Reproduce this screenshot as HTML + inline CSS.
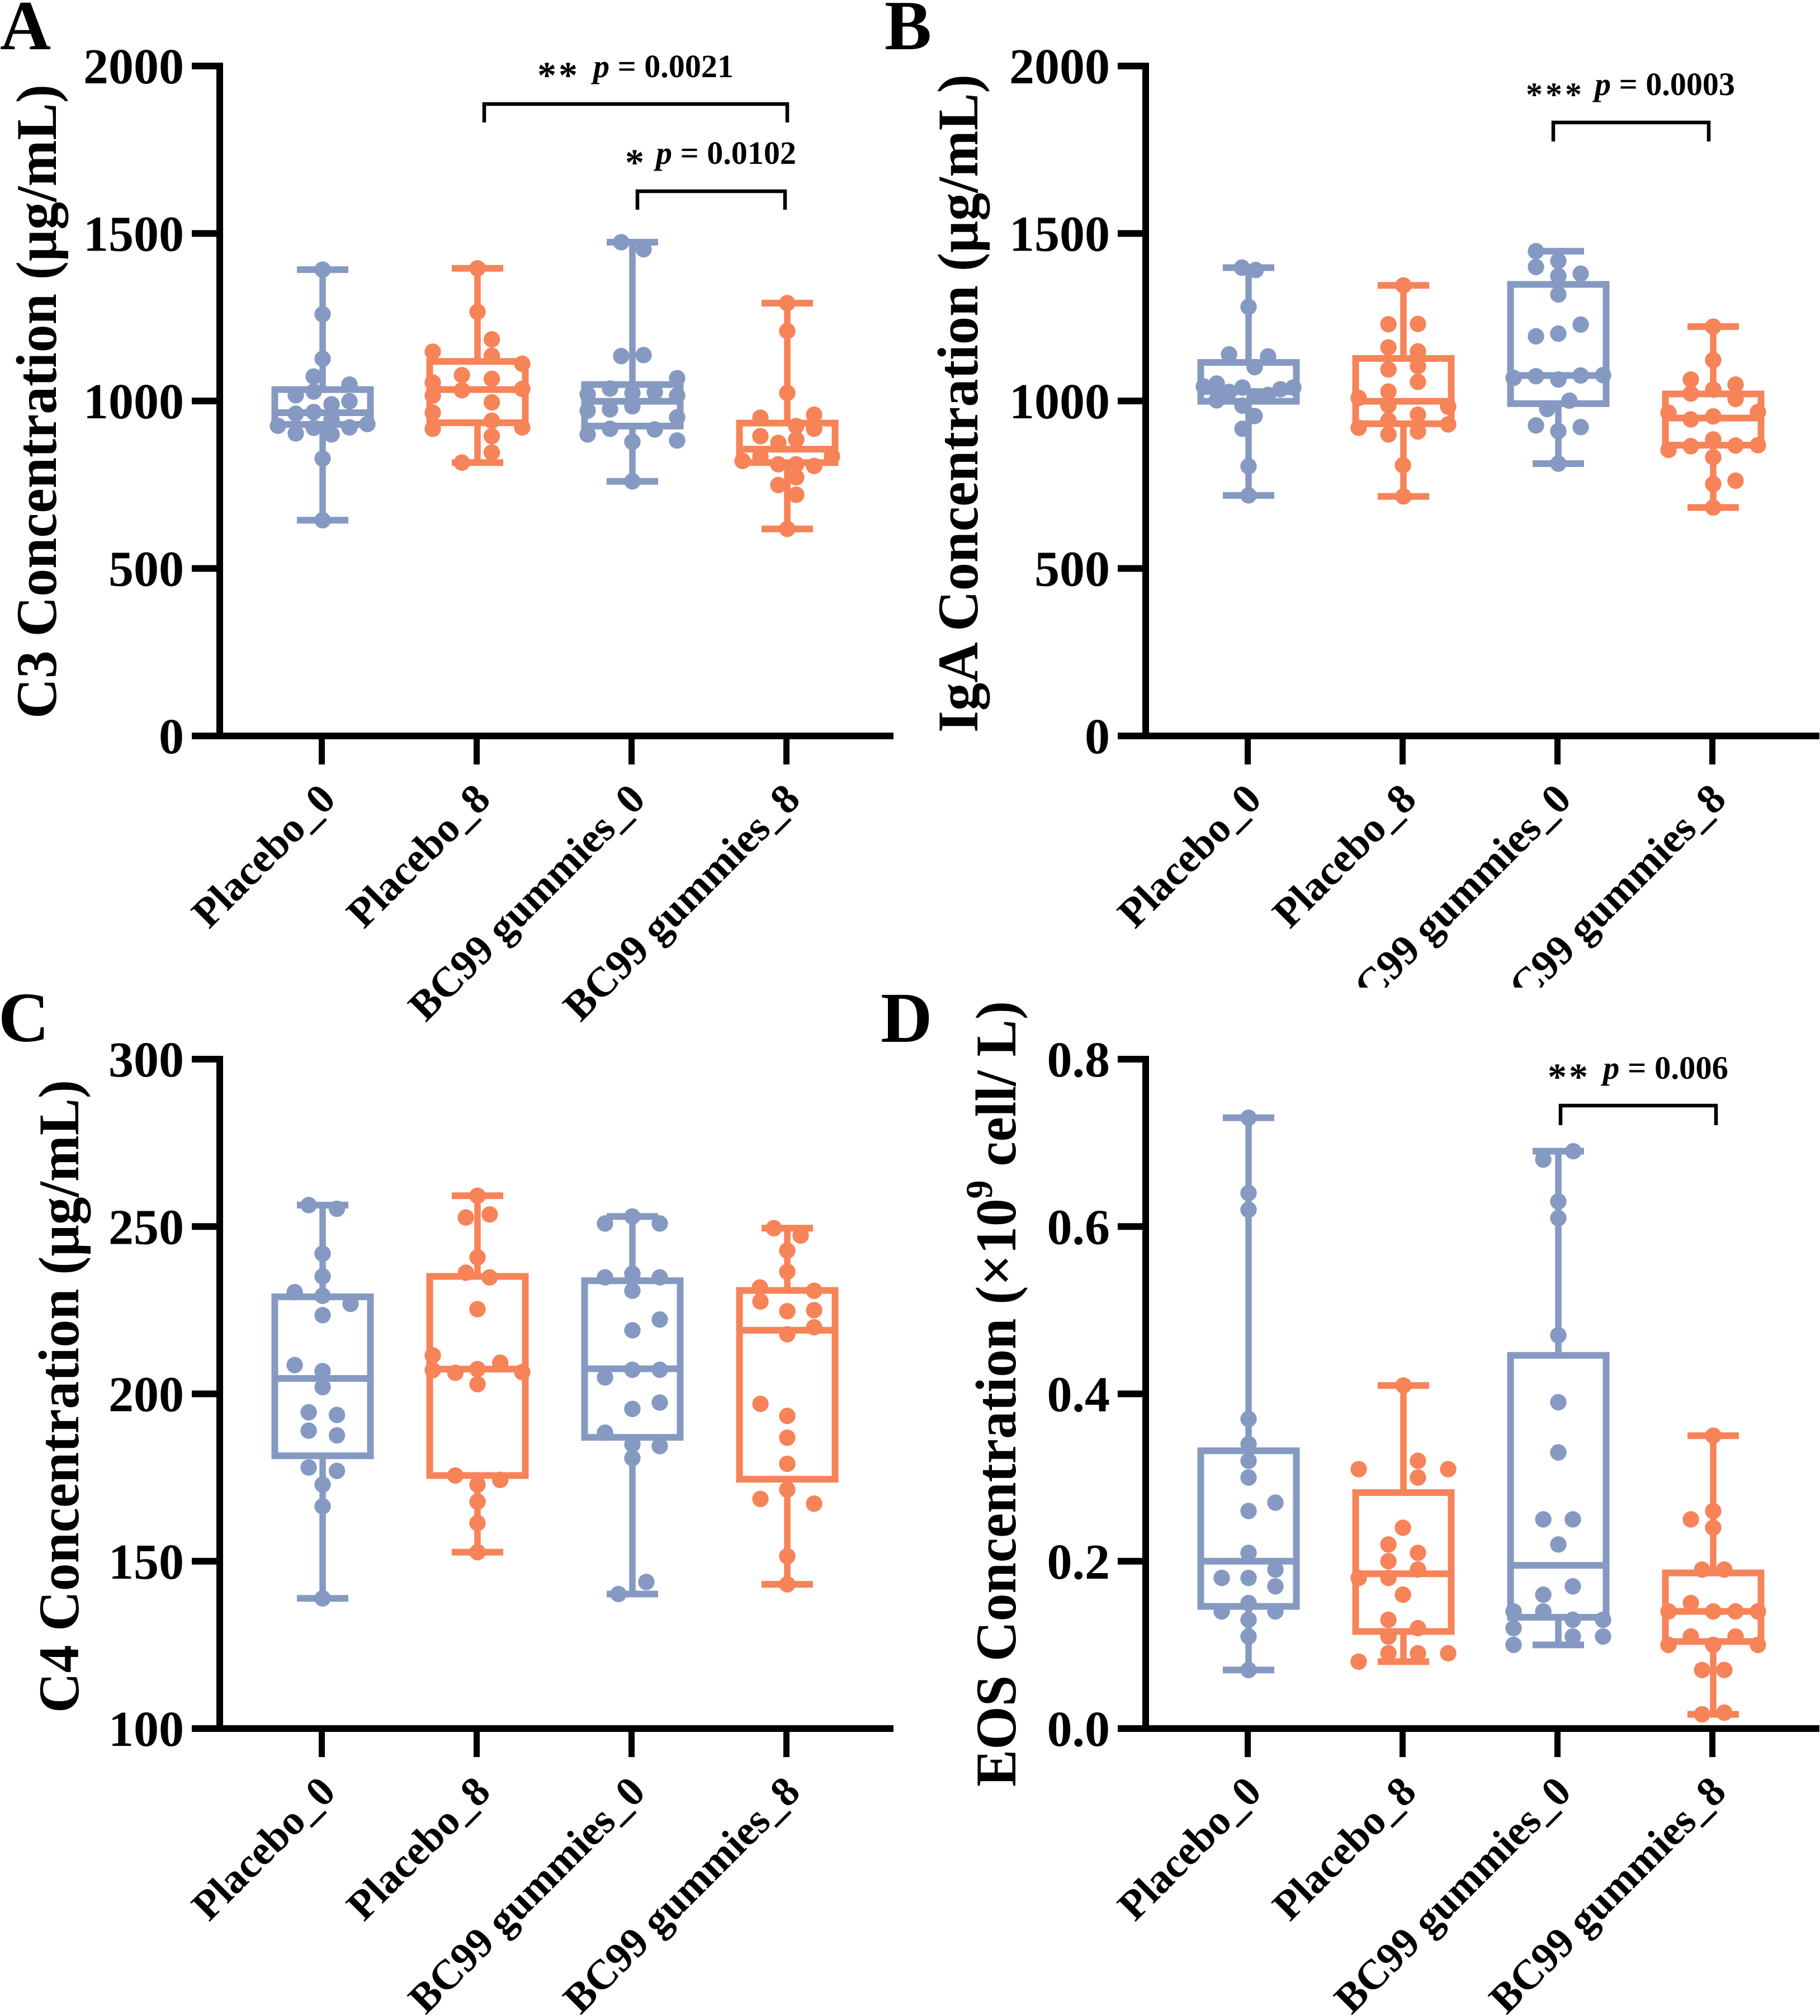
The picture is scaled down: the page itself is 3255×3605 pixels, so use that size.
<!DOCTYPE html>
<html lang="en">
<head>
<meta charset="utf-8">
<title>C3, IgA, C4 and EOS concentration box plots</title>
<style>
  html, body { margin: 0; padding: 0; background: #fff; }
  svg { display: block; }
  text { font-family: "Liberation Serif", "Noto Serif CJK SC", serif; font-weight: bold; fill: #000; }
</style>
</head>
<body>
<svg id="figure" xmlns="http://www.w3.org/2000/svg" width="3255" height="3605" viewBox="0 0 3255 3605">
  <rect x="0" y="0" width="3255" height="3605" fill="#fff"/>
  <defs>
    <clipPath id="panel-b-clip"><rect x="1900" y="0" width="1355" height="1766"/></clipPath>
  </defs>

  <text x="0" y="88" font-size="126">A</text>
  <text x="1582" y="88" font-size="126">B</text>
  <text x="-3" y="1862" font-size="126">C</text>
  <text x="1575" y="1863" font-size="128">D</text>

  <text transform="translate(100,1285) rotate(-90)" font-size="103" textLength="1134" lengthAdjust="spacingAndGlyphs">C3 Concentration (μg/mL)</text>
  <text transform="translate(1748,1310) rotate(-90)" font-size="103" textLength="1177" lengthAdjust="spacingAndGlyphs">IgA Concentration (μg/mL)</text>
  <text transform="translate(140,3063) rotate(-90)" font-size="103" textLength="1132" lengthAdjust="spacingAndGlyphs">C4 Concentration (μg/mL)</text>
  <text transform="translate(1816,3195) rotate(-90)" font-size="103" textLength="1405" lengthAdjust="spacingAndGlyphs">EOS Concentration (×10<tspan font-size="68" dy="-42">9</tspan><tspan dy="42"> cell/ L)</tspan></text>

  <g>
    <path d="M866 219V186H1408V219" fill="none" stroke="#000" stroke-width="6.5"/>
    <text x="961" y="157" font-size="68" letter-spacing="4">**</text>
    <text x="1061" y="138" font-size="58" textLength="251" lengthAdjust="spacingAndGlyphs"><tspan font-style="italic">p</tspan> = 0.0021</text>
  </g>
  <g>
    <path d="M1140 375V342H1404V375" fill="none" stroke="#000" stroke-width="6.5"/>
    <text x="1118" y="313" font-size="68">*</text>
    <text x="1173" y="293" font-size="58" textLength="251" lengthAdjust="spacingAndGlyphs"><tspan font-style="italic">p</tspan> = 0.0102</text>
  </g>
  <g>
    <path d="M2778 253V219H3056V253" fill="none" stroke="#000" stroke-width="6.5"/>
    <text x="2729" y="189" font-size="60" letter-spacing="5">***</text>
    <text x="2852" y="170" font-size="58" textLength="251" lengthAdjust="spacingAndGlyphs"><tspan font-style="italic">p</tspan> = 0.0003</text>
  </g>
  <g>
    <path d="M2791 2012V1977H3069V2012" fill="none" stroke="#000" stroke-width="6.5"/>
    <text x="2768" y="1948" font-size="68" letter-spacing="4">**</text>
    <text x="2867" y="1929" font-size="58" textLength="224" lengthAdjust="spacingAndGlyphs"><tspan font-style="italic">p</tspan> = 0.006</text>
  </g>
</svg>

<script>
// ---------- shared categories ----------
const categories = ['Placebo_0', 'Placebo_8', 'BC99 gummies_0', 'BC99 gummies_8'];

// ---------- Panel A: C3 (µg/mL) ----------
const c3Ticks = [0, 500, 1000, 1500, 2000];
const c3Placebo0 = [1392,1259,1126,1073,1049,1017,1028,999,990,962,967,945,926,903,920,900,921,931,828,644];
const c3Placebo0Swarm = [0,0,0,-0.5,1.5,-1.5,-0.5,1.5,0.5,-1.5,-0.5,0.5,-2.5,-1.5,-0.5,0.5,1.5,2.5,0,0];
const c3Placebo8 = [1396,1266,1184,1147,1135,1111,1077,1055,1066,1036,1032,1016,996,965,941,917,921,895,846,816];
const c3Placebo8Swarm = [0,0,0.8,-2.5,0.8,2.5,-0.87,-2.5,0.8,2.5,-0.87,-2.5,0.8,-2.5,0.8,-2.5,2.5,0.8,0.8,-0.87];
const c3Bc0 = [1474,1453,1134,1137,1068,1037,1020,1024,1026,1016,971,975,984,951,917,915,900,878,882,760];
const c3Bc0Swarm = [-0.625,0.625,-0.625,0.625,2.5,-1.25,-2.5,0,1.25,2.5,-2.5,-1.25,0,2.5,-1.25,1.25,-2.5,0,2.5,0];
const c3Bc8 = [1292,1209,1024,950,959,925,917,895,885,875,834,835,821,811,811,806,772,749,720,618];
const c3Bc8Swarm = [0,0,0,-1.5,1.5,0.5,1.5,-1.5,0.5,-0.5,-1.5,2.5,-2.5,-0.5,0.5,1.5,0.5,-0.5,0.5,0];
const c3Q1 = [930,935,925,816];
const c3Median = [965,1034,999,856];
const c3Q3 = [1034,1118,1049,934];

// ---------- Panel B: IgA (µg/mL) ----------
const igaTicks = [0, 500, 1000, 1500, 2000];
const igaPlacebo0 = [1398,1391,1281,1139,1133,1101,1052,1043,1040,1035,1040,1027,1014,1018,1002,986,955,917,805,718];
const igaPlacebo0Swarm = [-0.37,0.4,0,-1.09,1.09,0.34,-1.78,-2.5,-0.34,1.78,2.5,-1.09,0.34,1.09,-1.78,-0.34,0.34,-0.34,0,0];
const igaPlacebo8 = [1345,1229,1230,1160,1148,1094,1104,1057,1028,1009,987,983,959,942,920,930,909,900,808,715];
const igaPlacebo8Swarm = [0,-0.84,0.81,-0.84,0.81,-0.84,0.81,0.81,-0.84,-2.5,-0.84,2.5,0.81,-0.84,-2.5,2.5,0.81,-0.84,-0.03,0];
const igaBc0 = [1447,1418,1400,1380,1373,1318,1228,1201,1193,1069,1074,1064,1076,1077,1001,976,927,910,922,813];
const igaBc0Swarm = [-1.25,0,-1.25,1.25,0,0,1.25,0,-1.25,-2.5,-1.25,0,1.25,2.5,0.62,-0.62,-1.25,0,1.25,0];
const igaBc8 = [1222,1122,1064,1049,1034,1022,1006,965,967,945,954,885,865,867,854,868,832,762,752,682];
const igaBc8Swarm = [0,0,-1.25,1.25,0,-1.25,1.25,-2.5,2.5,-1.25,0,0,-1.25,1.25,-2.5,2.5,0,1.25,0,0];
const igaQ1 = [999,932,992,868];
const igaMedian = [1028,999,1076,949];
const igaQ3 = [1115,1127,1348,1021];

// ---------- Panel C: C4 (µg/mL) ----------
const c4Ticks = [100, 150, 200, 250, 300];
const c4Placebo0 = [256.4,255.3,241.9,235.1,230.4,229.3,226.9,223.5,208.6,206.8,202,194.5,193.7,189,187.6,178,177,172.9,166.4,138.9];
const c4Placebo0Swarm = [-0.78,0.8,0,0,-1.56,0,1.56,0,-1.56,0,0,-0.78,0.8,-0.78,0.8,-0.78,0.8,0,0,0];
const c4Placebo8 = [259.2,253.6,252.7,240.8,236.2,234.8,225.3,211.5,209.3,207.1,206.3,207.4,206.5,202.9,175.6,174.3,172.9,167.8,161.4,152.7];
const c4Placebo8Swarm = [0,0.68,-0.65,0,-0.65,0.68,0,-2.5,1.27,-2.5,-1.24,0,2.5,0,-1.24,1.27,0,0,0,0];
const c4Bc0 = [253,250.9,250.9,234.8,235.9,234.8,230.8,222.2,219,204.9,207.2,207.2,197.4,195.5,188.4,184.9,184.4,180.8,143.8,140.2];
const c4Bc0Swarm = [0,-1.53,1.53,-1.53,0,1.53,0,1.53,0,-1.53,0,1.53,1.53,0,-1.53,0,1.53,0,0.78,-0.78];
const c4Bc8 = [249.5,247.3,242.8,236.5,231.8,230.8,227.6,224.7,225,219.9,217.8,197,193.4,186.9,179.1,171.4,168.6,167.2,151.5,143.1];
const c4Bc8Swarm = [-0.75,0.75,0,0,-1.53,1.5,-1.5,0,1.5,1.5,0,-1.5,0,0,0,0,-1.5,1.5,0,0];
const c4Q1 = [181.5,175.6,187,174.5];
const c4Median = [204.6,207.4,207.5,219];
const c4Q3 = [229,235.1,233.8,230.9];

// ---------- Panel D: EOS (×10⁹ cell/L) ----------
const eosTicks = [0, 0.2, 0.4, 0.6, 0.8];
const eosPlacebo0 = [0.73,0.64,0.62,0.37,0.34,0.32,0.30,0.26,0.27,0.21,0.18,0.18,0.19,0.17,0.15,0.14,0.14,0.13,0.11,0.07];
const eosPlacebo0Swarm = [0,0,0,0,0,0,0,0,1.5,0,-1.5,0,1.5,1.5,0,-1.5,1.5,0,0,0];
const eosPlacebo8 = [0.41,0.31,0.32,0.31,0.30,0.24,0.22,0.21,0.20,0.19,0.18,0.18,0.16,0.13,0.12,0.11,0.09,0.09,0.09,0.08];
const eosPlacebo8Swarm = [0,-2.5,0.81,2.5,0.81,-0.03,-0.84,0.81,-0.84,0.81,-2.5,-0.84,-0.03,-0.84,0.81,-0.84,-0.84,0.81,2.5,-2.5];
const eosBc0 = [0.69,0.68,0.63,0.61,0.47,0.39,0.33,0.25,0.25,0.22,0.17,0.16,0.14,0.14,0.13,0.13,0.12,0.10,0.11,0.11];
const eosBc0Swarm = [0.84,-0.84,0,0,0,0,0,-0.84,0.81,0,0.81,-0.84,-2.5,-0.84,0.81,2.5,-2.5,-2.5,0.81,2.5];
const eosBc8 = [0.35,0.26,0.25,0.24,0.19,0.19,0.15,0.14,0.14,0.14,0.14,0.11,0.11,0.10,0.10,0.10,0.07,0.07,0.017,0.019];
const eosBc8Swarm = [0,0,-1.25,0,-0.62,0.62,-1.25,-2.5,0,1.25,2.5,-1.25,1.25,-2.5,0,2.5,-0.62,0.62,-0.62,0.62];
const eosQ1 = [0.146,0.116,0.133,0.104];
const eosMedian = [0.20,0.185,0.195,0.14];
const eosQ3 = [0.332,0.282,0.446,0.186];

// ---------- drawing ----------
const NS = 'http://www.w3.org/2000/svg';
const figure = document.getElementById('figure');
const BLUE = '#8599c2';
const ORANGE = '#f78359';
const groupColors = [BLUE, ORANGE, BLUE, ORANGE];
const SWARM_UNIT = 32;

function make(tag, attrs, parent) {
  const el = document.createElementNS(NS, tag);
  for (const k in attrs) el.setAttribute(k, attrs[k]);
  parent.appendChild(el);
  return el;
}

function drawPanel(p) {
  const panel = make('g', {}, figure);
  
  

  const yMin = p.ticks[0];
  const yMax = p.ticks[p.ticks.length - 1];
  const yOf = v => p.baseY - (v - yMin) / (yMax - yMin) * (p.baseY - p.topY);
  const xOf = i => p.firstX + i * 277;

  // y axis
  const yAxis = make('rect', { x: p.axisX - 6, y: p.topY - 6, width: 12, height: p.baseY - p.topY + 12, fill: '#000' }, panel);
  
  
  p.ticks.forEach(t => {
    const tick = make('rect', { x: p.axisX - 50, y: yOf(t) - 6, width: 50, height: 12, fill: '#000' }, panel);
    
    
    const label = make('text', { x: p.axisX - 64, y: yOf(t) + 31, 'font-size': 90, 'text-anchor': 'end' }, panel);
    
    
    label.textContent = p.tickFormat(t);
  });

  // x axis
  const xAxis = make('rect', { x: p.axisX - 50, y: p.baseY - 6, width: p.axisEnd - p.axisX + 50, height: 12, fill: '#000' }, panel);
  
  

  const labelLayer = make('g', p.clip ? { 'clip-path': p.clip } : {}, panel);
  
  

  categories.forEach((name, i) => {
    const tx = xOf(i) - 1.5;
    const tick = make('rect', { x: tx - 5.5, y: p.baseY + 6, width: 11, height: 45, fill: '#000' }, panel);
    
    
    const label = make('text', {
      transform: 'translate(' + (tx + 28) + ',' + (p.baseY + 117) + ') rotate(-45)',
      'font-size': 75, 'text-anchor': 'end'
    }, labelLayer);
    
    
    label.textContent = name;
  });

  // series
  p.series.forEach((values, i) => {
    const color = groupColors[i];
    const cx = xOf(i);
    const group = make('g', {}, panel);
    
    

    const lo = Math.min(...values);
    const hi = Math.max(...values);

    const whisker = make('rect', { x: cx - 5.75, y: yOf(hi), width: 11.5, height: yOf(lo) - yOf(hi), fill: color }, group);
    
    

    [hi, lo].forEach(v => {
      const cap = make('rect', { x: cx - 46, y: yOf(v) - 6, width: 92, height: 12, fill: color }, group);
      
      
    });

    const box = make('rect', {
      x: cx - 85.5, y: yOf(p.q3[i]), width: 171, height: yOf(p.q1[i]) - yOf(p.q3[i]),
      fill: '#fff', stroke: color, 'stroke-width': 12
    }, group);
    
    

    const median = make('rect', { x: cx - 85.5, y: yOf(p.median[i]) - 6, width: 171, height: 12, fill: color }, group);
    
    

    values.forEach((v, k) => {
      const dot = make('circle', { cx: cx + p.swarm[i][k] * SWARM_UNIT, cy: yOf(v), r: 14.7, fill: color }, group);
      
      
    });
  });
}

const intFormat = t => String(t);
const oneDecimal = t => t.toFixed(1);

const panels = [
  { ticks: c3Ticks, tickFormat: intFormat, axisX: 393, axisEnd: 1598, firstX: 577, topY: 118, baseY: 1316,
    series: [c3Placebo0, c3Placebo8, c3Bc0, c3Bc8],
    swarm: [c3Placebo0Swarm, c3Placebo8Swarm, c3Bc0Swarm, c3Bc8Swarm],
    q1: c3Q1, median: c3Median, q3: c3Q3 },
  { ticks: igaTicks, tickFormat: intFormat, axisX: 2049, axisEnd: 3254, firstX: 2233, topY: 118, baseY: 1316, clip: 'url(#panel-b-clip)',
    series: [igaPlacebo0, igaPlacebo8, igaBc0, igaBc8],
    swarm: [igaPlacebo0Swarm, igaPlacebo8Swarm, igaBc0Swarm, igaBc8Swarm],
    q1: igaQ1, median: igaMedian, q3: igaQ3 },
  { ticks: c4Ticks, tickFormat: intFormat, axisX: 393, axisEnd: 1598, firstX: 577, topY: 1894, baseY: 3091,
    series: [c4Placebo0, c4Placebo8, c4Bc0, c4Bc8],
    swarm: [c4Placebo0Swarm, c4Placebo8Swarm, c4Bc0Swarm, c4Bc8Swarm],
    q1: c4Q1, median: c4Median, q3: c4Q3 },
  { ticks: eosTicks, tickFormat: oneDecimal, axisX: 2049, axisEnd: 3254, firstX: 2233, topY: 1894, baseY: 3091,
    series: [eosPlacebo0, eosPlacebo8, eosBc0, eosBc8],
    swarm: [eosPlacebo0Swarm, eosPlacebo8Swarm, eosBc0Swarm, eosBc8Swarm],
    q1: eosQ1, median: eosMedian, q3: eosQ3 }
];

panels.forEach(drawPanel);
</script>
</body>
</html>
